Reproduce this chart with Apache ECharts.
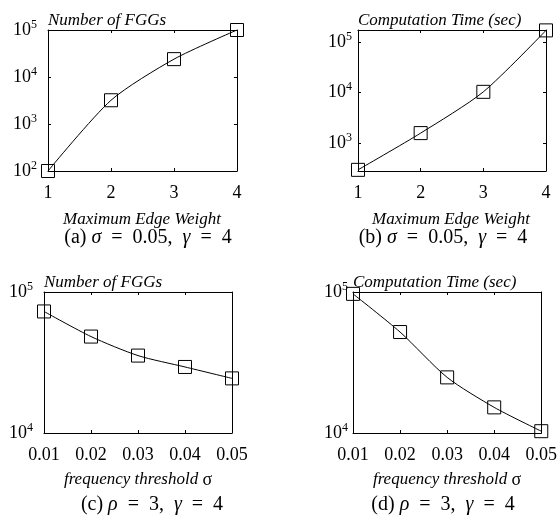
<!DOCTYPE html>
<html>
<head>
<meta charset="utf-8">
<script src="https://cdn.jsdelivr.net/npm/echarts@6/dist/echarts.min.js"></script>
<style>
html,body{margin:0;padding:0;background:#fff;}
#c{width:560px;height:521px;}
</style>
</head>
<body>
<div id="c"></div>
<script>
// ---- data ----
const edgeWeights = ['1', '2', '3', '4'];
const fggsByWeight = [100, 3200, 24000, 100000];
const timeByWeight = [295, 1580, 10400, 172000];
const sigmas = ['0.01', '0.02', '0.03', '0.04', '0.05'];
const fggsBySigma = [72800, 48300, 35400, 29400, 24400];
const timeBySigma = [97000, 52000, 24800, 15200, 10300];
const titles = ['Number of FGGs', 'Computation Time (sec)', 'Number of FGGs', 'Computation Time (sec)'];
const yRanges = [[100, 100000], [280, 175000], [10000, 100000], [10000, 100000]];

const SERIF = 'Liberation Serif';
const grids = [
  {left: 48, top: 30, width: 189, height: 141},
  {left: 358, top: 30, width: 188, height: 141},
  {left: 44, top: 292, width: 188, height: 141},
  {left: 353, top: 292, width: 189, height: 141}
];
const labelMargins = [11, 6, 11, 5];
const cats = [edgeWeights, edgeWeights, sigmas, sigmas];
const vals = [fggsByWeight, timeByWeight, fggsBySigma, timeBySigma];

function powLabel(v) {
  const e = Math.log10(v);
  if (Math.abs(e - Math.round(e)) > 1e-6) return '';
  return '{b|10}{s|' + Math.round(e) + '}';
}
const line = {show: true, lineStyle: {color: '#000', width: 1}};
const tickIn = {show: true, inside: true, length: 3, lineStyle: {color: '#000', width: 1}};

const xAxis = [], yAxis = [], series = [];
grids.forEach((g, i) => {
  xAxis.push({
    type: 'category', gridIndex: i, data: cats[i], boundaryGap: false, position: 'bottom',
    axisLine: line, axisTick: tickIn, splitLine: {show: false},
    axisLabel: {color: '#000', fontFamily: SERIF, fontSize: 18, margin: 13}
  });
  xAxis.push({
    type: 'category', gridIndex: i, data: cats[i], boundaryGap: false, position: 'top',
    axisLine: line, axisTick: tickIn, axisLabel: {show: false}, splitLine: {show: false}
  });
  const base = {
    type: 'log', gridIndex: i, min: yRanges[i][0], max: yRanges[i][1], logBase: 10,
    axisLine: line, axisTick: tickIn, splitLine: {show: false}
  };
  yAxis.push(Object.assign({}, base, {
    position: 'left',
    axisLabel: {
      color: '#000', margin: labelMargins[i], formatter: powLabel,
      rich: {
        b: {fontFamily: SERIF, fontSize: 18, color: '#000'},
        s: {fontFamily: SERIF, fontSize: 12, color: '#000', padding: [0, 0, 11, 0]}
      }
    }
  }));
  yAxis.push(Object.assign({}, base, {position: 'right', axisLabel: {show: false}}));
  series.push({
    type: 'line', xAxisIndex: 2 * i, yAxisIndex: 2 * i, data: vals[i],
    smooth: 0.25, symbol: 'rect', symbolSize: 13, showAllSymbol: true,
    lineStyle: {color: '#000', width: 1},
    itemStyle: {color: 'rgba(0,0,0,0)', borderColor: '#000', borderWidth: 1},
    animation: false
  });
});

const italic = {fontFamily: SERIF, fontStyle: 'italic', fontSize: 17, fill: '#000'};
const graphics = [];
// chart titles
const titlePos = [[48, 21], [358, 21], [44, 283], [353, 283]];
titles.forEach((t, i) => {
  graphics.push({type: 'text', x: titlePos[i][0], y: titlePos[i][1],
    style: Object.assign({text: t, textAlign: 'left', textVerticalAlign: 'middle'}, italic)});
});
// axis titles
const xNamePos = [[142, 220], [451, 220], [138, 480], [447, 480]];
xNamePos.forEach((p, i) => {
  const txt = i < 2 ? '{i|Maximum Edge Weight}' : '{i|frequency threshold }{u|σ}';
  graphics.push({type: 'text', x: p[0], y: p[1], style: {
    text: txt, textAlign: 'center', textVerticalAlign: 'middle',
    rich: {
      i: {fontFamily: SERIF, fontStyle: 'italic', fontSize: 17, color: '#000'},
      u: {fontFamily: SERIF, fontSize: 18, color: '#000'}
    }
  }});
});
// captions
const capPos = [[148, 238], [443, 238], [152, 505], [443, 505]];
const capLetters = ['a', 'b', 'c', 'd'];
const sp = '\u2002';
capPos.forEach((p, i) => {
  const txt = i < 2
    ? '{r|(' + capLetters[i] + ') }{m|σ}{r|' + sp + '=' + sp + '0.05,' + sp + '}{m|γ}{r|' + sp + '=' + sp + '4}'
    : '{r|(' + capLetters[i] + ') }{m|ρ}{r|' + sp + '=' + sp + '3,' + sp + '}{m|γ}{r|' + sp + '=' + sp + '4}';
  graphics.push({type: 'text', x: p[0], y: p[1], style: {
    text: txt, textAlign: 'center', textVerticalAlign: 'middle',
    rich: {
      r: {fontFamily: SERIF, fontSize: 20, color: '#000'},
      m: {fontFamily: SERIF, fontStyle: 'italic', fontSize: 20, color: '#000'}
    }
  }});
});

const chart = echarts.init(document.getElementById('c'), null, {renderer: 'canvas'});
chart.setOption({
  animation: false,
  backgroundColor: '#fff',
  grid: grids,
  xAxis: xAxis,
  yAxis: yAxis,
  series: series,
  graphic: graphics
});
</script>
</body>
</html>
